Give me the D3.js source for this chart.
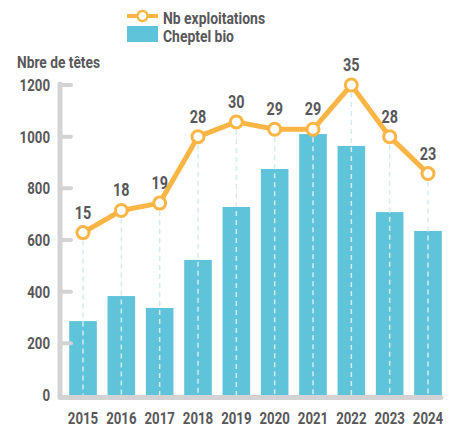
<!DOCTYPE html>
<html>
<head>
<meta charset="utf-8">
<script src="https://cdn.jsdelivr.net/npm/d3@7"></script>
<style>
  html, body { margin: 0; padding: 0; background: #fff; }
  svg text { font-family: "Roboto", "DejaVu Sans Condensed", sans-serif; font-weight: bold; fill: #58585a; }
</style>
</head>
<body>
<div id="chart"></div>
<script>
  // ── Data ──
  const years         = ['2015', '2016', '2017', '2018', '2019', '2020', '2021', '2022', '2023', '2024'];
  const cheptel       = [286, 383, 337, 523, 728, 875, 1010, 964, 708, 635];
  const exploitations = [15, 18, 19, 28, 30, 29, 29, 35, 28, 23];
  const yTicks        = [0, 200, 400, 600, 800, 1000, 1200];

  const W = 456, H = 431;
  const orange = '#fbb545', blue = '#5fc3d9', grey = '#d3d3d3';
  const SX = 0.78; // horizontal squeeze to mimic the condensed face

  const svg = d3.select('#chart').append('svg')
    .attr('width', W).attr('height', H);

  // condensed text helper
  function label(sel, size, anchor) {
    return sel.append('text')
      .attr('font-size', size + 'px')
      .attr('text-anchor', anchor || 'start');
  }
  const at = (x, y, sx) => `translate(${x},${y}) scale(${sx || SX},1)`;

  // Scales
  const x = d3.scalePoint().domain(years).range([83, 428]);
  const barW = x.step() * 0.72;
  const y  = d3.scaleLinear().domain([0, 1200]).range([395, 85]);
  const y2 = d3.scaleLinear().domain([-7, 35]).range([395, 85]);

  // Bars
  svg.selectAll('.bar')
    .data(cheptel)
    .join('rect')
    .attr('x', (d, i) => x(years[i]) - barW / 2)
    .attr('y', d => y(d))
    .attr('width', barW)
    .attr('height', d => y(0) - y(d))
    .attr('fill', blue);

  // Dashed drop lines
  svg.selectAll('.drop')
    .data(exploitations)
    .join('line')
    .attr('x1', (d, i) => x(years[i])).attr('x2', (d, i) => x(years[i]))
    .attr('y1', d => y2(d) + 8).attr('y2', y(0))
    .attr('stroke', '#d4ebf4').attr('stroke-width', 1.5)
    .attr('stroke-dasharray', '5 4');

  // Axes
  svg.append('line')
    .attr('x1', 60).attr('x2', 60).attr('y1', 84).attr('y2', 397)
    .attr('stroke', grey).attr('stroke-width', 5).attr('stroke-linecap', 'round');
  svg.append('line')
    .attr('x1', 60).attr('x2', 441).attr('y1', 397.5).attr('y2', 397.5)
    .attr('stroke', grey).attr('stroke-width', 5).attr('stroke-linecap', 'round');

  svg.selectAll('.ytick')
    .data(yTicks.filter(t => t > 0))
    .join('line')
    .attr('x1', 60).attr('x2', 71)
    .attr('y1', d => y(d)).attr('y2', d => y(d))
    .attr('stroke', grey).attr('stroke-width', 4).attr('stroke-linecap', 'round');

  yTicks.forEach(t => {
    label(svg, 17, 'end').attr('transform', at(50, y(t) + 6)).text(t);
  });

  years.forEach(yr => {
    label(svg, 17, 'middle').attr('transform', at(x(yr), 424)).text(yr);
  });

  // Line
  const line = d3.line().x((d, i) => x(years[i])).y(d => y2(d));
  svg.append('path')
    .datum(exploitations)
    .attr('fill', 'none')
    .attr('stroke', orange)
    .attr('stroke-width', 5)
    .attr('stroke-linejoin', 'round')
    .attr('d', line);

  svg.selectAll('.pt')
    .data(exploitations)
    .join('circle')
    .attr('cx', (d, i) => x(years[i]))
    .attr('cy', d => y2(d))
    .attr('r', 6)
    .attr('fill', '#fff')
    .attr('stroke', orange).attr('stroke-width', 3);

  exploitations.forEach((v, i) => {
    label(svg, 18, 'middle').attr('transform', at(x(years[i]), y2(v) - 14, 0.8)).text(v);
  });

  // Axis title
  label(svg, 16).attr('transform', at(17, 68, 0.86)).text('Nbre de têtes');

  // Legend
  const lg = svg.append('g');
  lg.append('line')
    .attr('x1', 127).attr('x2', 158).attr('y1', 16).attr('y2', 16)
    .attr('stroke', orange).attr('stroke-width', 4);
  lg.append('circle')
    .attr('cx', 142.5).attr('cy', 16).attr('r', 5)
    .attr('fill', '#fff').attr('stroke', orange).attr('stroke-width', 2.5);
  lg.append('rect')
    .attr('x', 127).attr('y', 26).attr('width', 31).attr('height', 16)
    .attr('fill', blue);
  label(lg, 16).attr('transform', at(163, 24, 0.87)).text('Nb exploitations');
  label(lg, 16).attr('transform', at(163, 42, 0.87)).text('Cheptel bio');
</script>
</body>
</html>
